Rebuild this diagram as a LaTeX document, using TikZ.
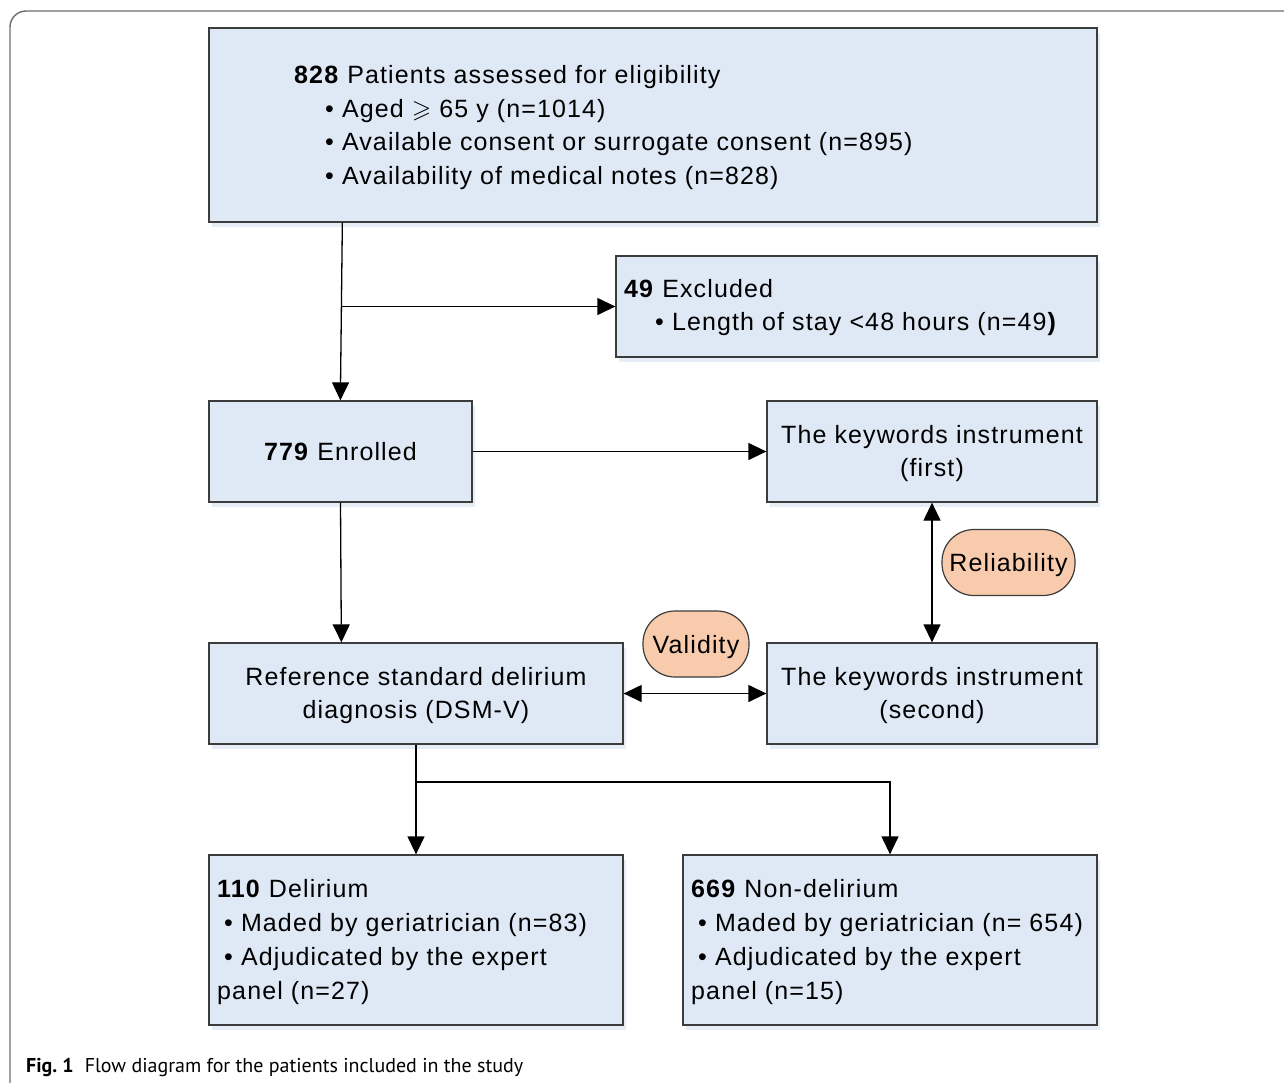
\documentclass[tikz,border=0pt]{standalone}
\usepackage{amssymb}
\usepackage{fontspec}
\setmainfont{Liberation Sans}[LetterSpace=4.5]
\newfontfamily\capfont{PT Sans}
\usetikzlibrary{arrows.meta,shadows,calc}
\definecolor{boxblue}{RGB}{222,233,245}
\definecolor{boxline}{RGB}{60,60,60}
\definecolor{peach}{RGB}{248,203,173}
\definecolor{shblue}{RGB}{214,226,240}
\definecolor{framegray}{RGB}{110,110,110}
\tikzset{
  box/.style={draw=boxline, fill=boxblue, line width=1.3pt, inner sep=0pt,
    general shadow={fill=shblue, opacity=0.6, shadow xshift=3pt, shadow yshift=-5pt}},
  oval/.style={draw=boxline, fill=peach, line width=1.2pt, inner sep=0pt, text depth=0pt,
    rounded corners=32pt, minimum height=66pt, font=\fontsize{25}{30}\selectfont},
  txt/.style={inner sep=0pt, font=\fontsize{25}{33.7}\selectfont},
  arr/.style={line width=1.3pt, draw=black, -{Triangle[length=18pt,width=17pt]}},
  darr/.style={line width=1.3pt, draw=black, {Triangle[length=18pt,width=17pt]}-{Triangle[length=18pt,width=17pt]}}
}
\begin{document}
\begin{tikzpicture}[x=1pt,y=-1pt]
\useasboundingbox (0,0) rectangle (1284,1082);
\clip (0,0) rectangle (1284,1082);
\fill[white] (0,0) rectangle (1284,1082);
% outer frame
\draw[framegray, line width=1.4pt, rounded corners=16pt] (10,1100) -- (10,11) -- (1300,11);

% boxes
\node[box, minimum width=888pt, minimum height=194pt] (top) at (653,125) {};
\node[box, minimum width=481pt, minimum height=101pt] (exc) at (856.5,306.5) {};
\node[box, minimum width=263pt, minimum height=101pt] (enr) at (340.5,451.5) {};
\node[box, minimum width=330pt, minimum height=101pt] (kw1) at (932,451.5) {};
\node[box, minimum width=414pt, minimum height=101pt] (ref) at (416,693.5) {};
\node[box, minimum width=330pt, minimum height=101pt] (kw2) at (932,693.5) {};
\node[box, minimum width=414pt, minimum height=170pt] (del) at (416,940) {};
\node[box, minimum width=414pt, minimum height=170pt] (nond) at (890,940) {};

% ovals
\node[oval, minimum width=133pt] (rel) at (1008.5,562.5) {Reliability};
\node[oval, minimum width=106pt] (val) at (696,644) {Validity};

% texts
\node[txt, anchor=west, align=left] (toptxt) at (294,127.5)
  {\textbf{828} Patients assessed for eligibility\\
   \hspace*{31pt}\textbullet\ Aged $\geqslant$ 65 y (n=1014)\\
   \hspace*{31pt}\textbullet\ Available consent or surrogate consent (n=895)\\
   \hspace*{31pt}\textbullet\ Availability of medical notes (n=828)};
\node[txt, anchor=west, align=left] (exctxt) at (624,307.5)
  {\textbf{49} Excluded\\
   \hspace*{31pt}\textbullet\ Length of stay <48 hours (n=49\textbf{)}};
\node[txt] (enrtxt) at (340.5,452) {\textbf{779} Enrolled};
\node[txt, align=center] (kw1txt) at (932,453.5) {The keywords instrument\\(first)};
\node[txt, align=center] (reftxt) at (416,695.5) {Reference standard delirium\\diagnosis (DSM-V)};
\node[txt, align=center] (kw2txt) at (932,695.5) {The keywords instrument\\(second)};
\node[txt, anchor=west, align=left] (deltxt) at (217,942)
  {\textbf{110} Delirium\\
   \hspace*{7pt}\textbullet\ Maded by geriatrician (n=83)\\
   \hspace*{7pt}\textbullet\ Adjudicated by the expert\\
   panel (n=27)};
\node[txt, anchor=west, align=left] (nondtxt) at (691,942)
  {\textbf{669} Non-delirium\\
   \hspace*{7pt}\textbullet\ Maded by geriatrician (n= 654)\\
   \hspace*{7pt}\textbullet\ Adjudicated by the expert\\
   panel (n=15)};

% caption
\node[anchor=west, inner sep=0pt, font=\capfont\fontsize{20}{24}\selectfont] (cap) at (26,1067)
  {\textbf{Fig.\ 1}\hspace{11pt}Flow diagram for the patients included in the study};

% connectors
\coordinate (j1) at (342,306.5);
\coordinate (split) at (416,782);
\draw[arr] ([xshift=134pt]top.south west) -- ([xshift=132pt]enr.north west);
\draw[arr] (j1) -- (exc.west);
\draw[arr] (enr.east) -- (kw1.west);
\draw[arr] (enr.south) -- ([xshift=133pt]ref.north west);
\draw[darr] (kw1.south) -- (kw2.north);
\draw[darr] (ref.east) -- (kw2.west);
\draw[arr] (ref.south) -- (del.north);
\draw[arr] (split) -| (nond.north);
\end{tikzpicture}
\end{document}
